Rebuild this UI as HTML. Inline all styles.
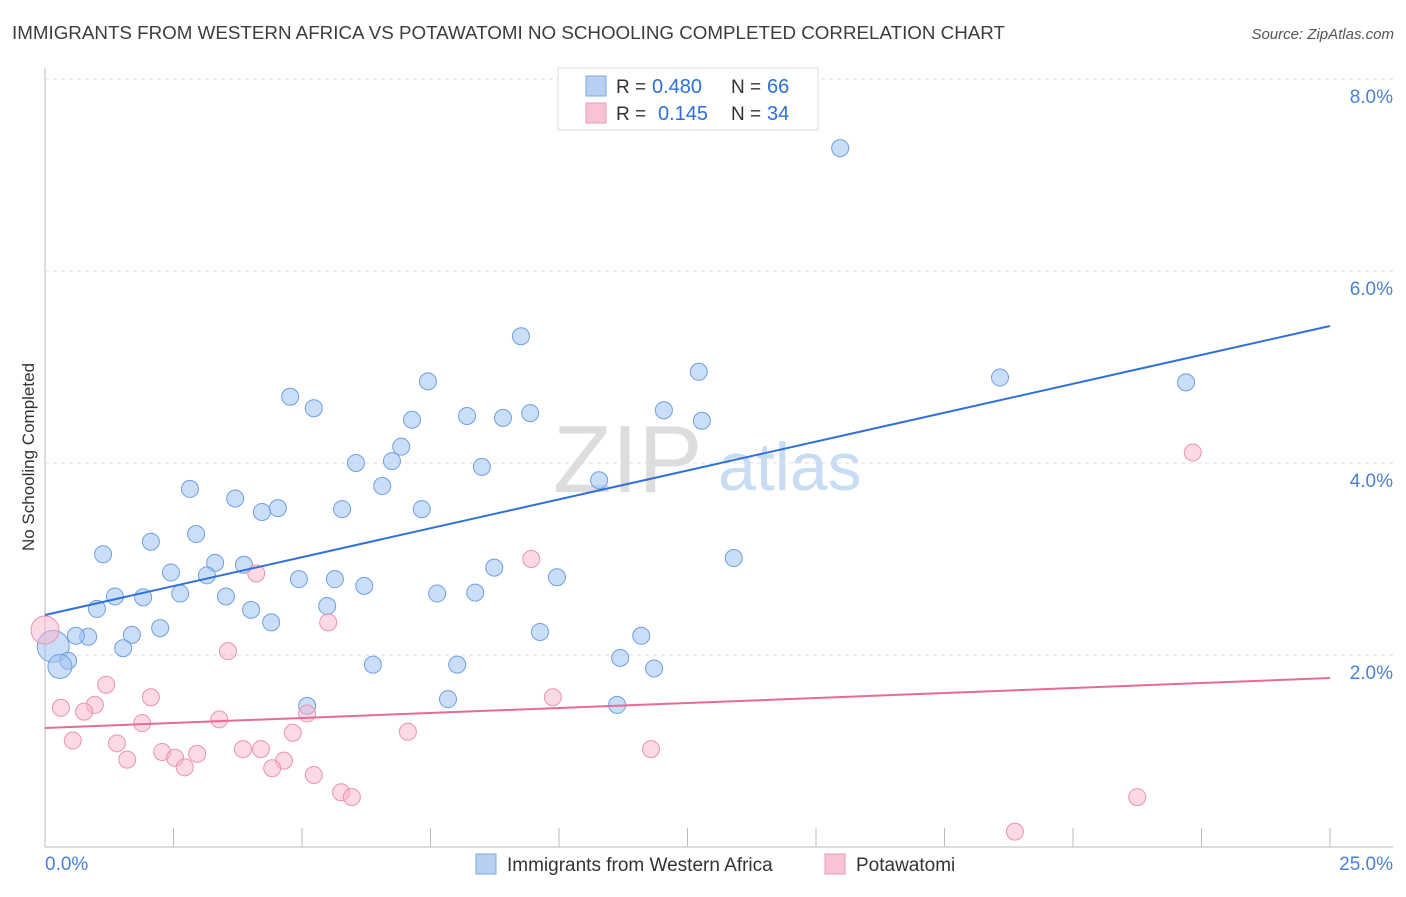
<!DOCTYPE html>
<html><head><meta charset="utf-8"><style>
body{margin:0;background:#fff;font-family:"Liberation Sans",sans-serif;}
svg text{font-family:"Liberation Sans",sans-serif;}
</style></head><body>
<svg id="chart" width="1406" height="892">
<text x="12" y="39" font-size="18" fill="#3c3c3c" textLength="993" lengthAdjust="spacingAndGlyphs">IMMIGRANTS FROM WESTERN AFRICA VS POTAWATOMI NO SCHOOLING COMPLETED CORRELATION CHART</text>
<text x="1394" y="39" font-size="15" fill="#555" font-style="italic" text-anchor="end">Source: ZipAtlas.com</text>
<text x="34" y="457" font-size="17" fill="#333" text-anchor="middle" transform="rotate(-90 34 457)">No Schooling Completed</text>
<text x="553" y="492" font-size="96" fill="#ddd" font-family="Liberation Serif">ZIP</text>
<text x="718" y="490" font-size="68" fill="#c8dcf3">atlas</text>
<g id="grid"></g><g id="axes"></g><g id="pts"></g><g id="lines"></g>
<g>
<rect x="558" y="68" width="260" height="62" fill="#fff" stroke="#ddd"/>
<rect x="586" y="76" width="20" height="20" fill="#b7d0f2" stroke="#7ea8e0"/>
<rect x="586" y="103" width="20" height="20" fill="#f8c3d4" stroke="#eb9ab6"/>
<text x="616" y="93" font-size="19" fill="#333">R =</text>
<text x="652" y="93" font-size="20" fill="#2e6fd8">0.480</text>
<text x="731" y="93" font-size="19" fill="#333">N =</text>
<text x="767" y="93" font-size="20" fill="#2e6fd8">66</text>
<text x="616" y="120" font-size="19" fill="#333">R =</text>
<text x="658" y="120" font-size="20" fill="#2e6fd8">0.145</text>
<text x="731" y="120" font-size="19" fill="#333">N =</text>
<text x="767" y="120" font-size="20" fill="#2e6fd8">34</text>
</g>
<g>
<rect x="476" y="854" width="20" height="20" fill="#b7d0f2" stroke="#7ea8e0"/>
<text x="507" y="871" font-size="19" fill="#333">Immigrants from Western Africa</text>
<rect x="825" y="854" width="20" height="20" fill="#f8c3d4" stroke="#eb9ab6"/>
<text x="856" y="871" font-size="19" fill="#333">Potawatomi</text>
</g>
</svg>
<script>
const blueX=[15.47,9.26,12.72,18.58,22.20,4.77,7.45,5.23,8.21,8.91,9.44,12.04,7.14,12.78,6.93,6.05,6.75,8.50,2.82,6.56,3.70,4.53,4.22,5.78,7.33,10.78,2.94,2.06,1.13,13.40,3.31,3.87,2.45,3.15,8.74,9.96,4.94,5.64,6.21,1.36,1.91,2.63,3.52,7.63,8.37,1.01,4.01,5.49,4.40,2.24,1.69,0.84,0.60,9.63,11.60,1.52,0.16,0.45,0.29,6.38,8.02,11.19,11.85,7.84,5.10,11.13];
const blueY=[7.28,5.32,4.95,4.89,4.84,4.69,4.85,4.57,4.49,4.47,4.52,4.55,4.45,4.44,4.17,4.00,4.02,3.96,3.73,3.76,3.63,3.53,3.49,3.52,3.52,3.82,3.26,3.18,3.05,3.01,2.96,2.94,2.86,2.83,2.91,2.81,2.79,2.79,2.72,2.61,2.60,2.64,2.61,2.64,2.65,2.48,2.47,2.51,2.34,2.28,2.21,2.19,2.20,2.24,2.20,2.07,2.09,1.94,1.88,1.90,1.90,1.97,1.86,1.54,1.47,1.48];
const pinkX=[0,22.33,9.46,4.11,5.51,3.56,1.19,2.06,9.88,0.31,0.97,0.76,3.39,5.10,1.89,0.54,4.82,7.06,1.40,2.28,3.85,4.20,2.96,2.53,1.60,11.79,4.65,2.72,4.42,5.23,5.76,5.97,21.25,18.87];
const pinkY=[2.26,4.11,3.00,2.85,2.34,2.04,1.69,1.56,1.56,1.45,1.48,1.41,1.33,1.39,1.29,1.11,1.19,1.20,1.08,0.99,1.02,1.02,0.97,0.93,0.91,1.02,0.90,0.83,0.82,0.75,0.57,0.52,0.52,0.16];
const blueTrend=[2.417,5.427];
const pinkTrend=[1.24,1.76];
const yTicks=[2,4,6,8];
const NS='http://www.w3.org/2000/svg';
const sx=v=>45+v*51.4, sy=v=>847-v*96;
function mk(tag,a,parent){const e=document.createElementNS(NS,tag);for(const k in a)e.setAttribute(k,a[k]);document.getElementById(parent).appendChild(e);return e;}
yTicks.forEach(t=>{
 const l=mk('line',{x1:45,x2:1393,y1:sy(t),y2:sy(t),stroke:'#ddd','stroke-dasharray':'4,4'},'grid');
 
 
 const tx=mk('text',{x:1393,y:sy(t)+24,'font-size':19,fill:'#4a80d8','text-anchor':'end'},'grid');
 tx.textContent=t.toFixed(1)+'%';
 
 
});
mk('line',{x1:45,x2:1393,y1:79,y2:79,stroke:'#ddd','stroke-dasharray':'4,4'},'grid');
const ya=mk('line',{x1:45,x2:45,y1:68,y2:847,stroke:'#bbb'},'axes');


const xa=mk('line',{x1:45,x2:1393,y1:847,y2:847,stroke:'#bbb'},'axes');


for(let i=0;i<=10;i++){const x=sx(i*2.5);mk('line',{x1:x,x2:x,y1:828,y2:847,stroke:'#bbb'},'axes');}
const x0=mk('text',{x:45,y:870,'font-size':19,fill:'#4a80d8'},'axes');x0.textContent='0.0%';


const x1=mk('text',{x:1393,y:870,'font-size':19,fill:'#4a80d8','text-anchor':'end'},'axes');x1.textContent='25.0%';


blueX.forEach((v,i)=>{
 const r=(i===56)?16:(i===58?12:8.5);
 const c=mk('circle',{cx:sx(v),cy:sy(blueY[i]),r:r,fill:'rgba(160,195,240,0.55)',stroke:'#6f9fe0','stroke-width':1},'pts');
 
 
});
pinkX.forEach((v,i)=>{
 const r=(i===0)?14:8.5;
 const c=mk('circle',{cx:sx(v),cy:sy(pinkY[i]),r:r,fill:'rgba(247,180,204,0.5)',stroke:'#e993b3','stroke-width':1},'pts');
 
 
});
const bl=mk('line',{x1:sx(0),y1:sy(blueTrend[0]),x2:sx(25),y2:sy(blueTrend[1]),stroke:'#2e72d8','stroke-width':2},'lines');


const pl=mk('line',{x1:sx(0),y1:sy(pinkTrend[0]),x2:sx(25),y2:sy(pinkTrend[1]),stroke:'#e86a98','stroke-width':2},'lines');


</script>
</body></html>
